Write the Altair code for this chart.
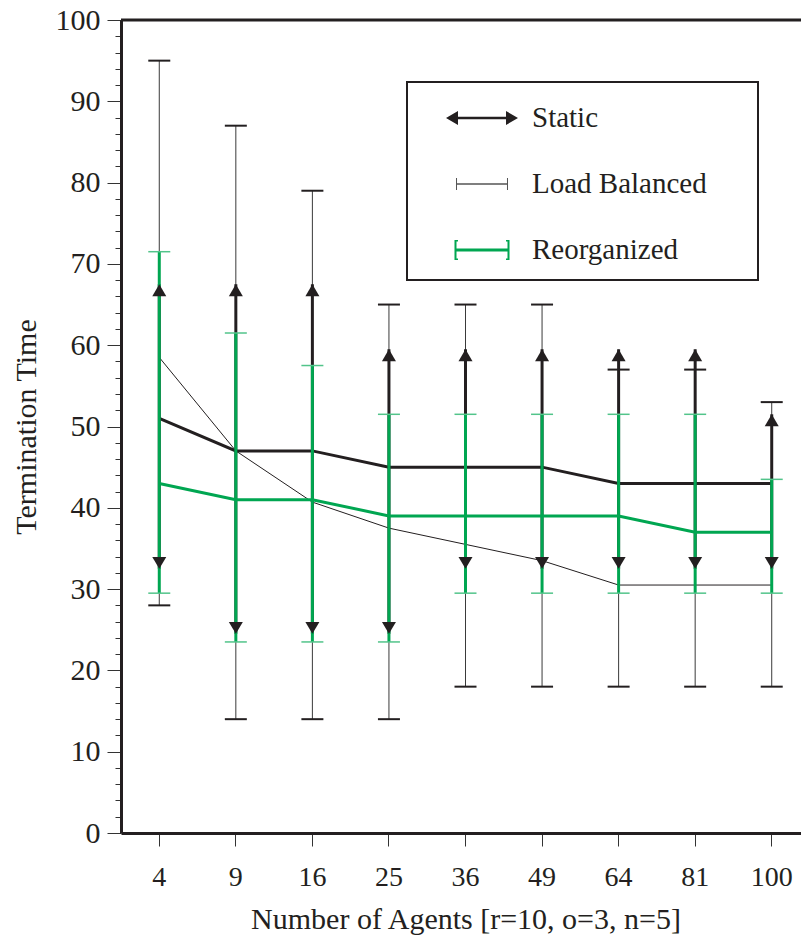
import math

import altair as alt
import pandas as pd

# Number of agents on the x axis (categorical bands)
agents = ["4", "9", "16", "25", "36", "49", "64", "81", "100"]

# Static allocation: mean termination time and spread
static_mean = [51, 47, 47, 45, 45, 45, 43, 43, 43]
static_low = [32.5, 24.5, 24.5, 24.5, 32.5, 32.5, 32.5, 32.5, 32.5]
static_high = [67.5, 67.5, 67.5, 59.5, 59.5, 59.5, 59.5, 59.5, 51.5]

# Load balanced
lb_mean = [58.5, 47, 40.7, 37.5, 35.5, 33.5, 30.5, 30.5, 30.5]
lb_low = [28, 14, 14, 14, 18, 18, 18, 18, 18]
lb_high = [95, 87, 79, 65, 65, 65, 57, 57, 53]

# Reorganized
re_mean = [43, 41, 41, 39, 39, 39, 39, 37, 37]
re_low = [29.5, 23.5, 23.5, 23.5, 29.5, 29.5, 29.5, 29.5, 29.5]
re_high = [71.5, 61.5, 57.5, 51.5, 51.5, 51.5, 51.5, 51.5, 43.5]

series_names = ["Static", "Load Balanced", "Reorganized"]

INK = "#231f20"
GREEN = "#00a651"
GREEN_CAP = "#52c48a"
FONT = "Liberation Serif"


def frame(name, mean, low, high):
    return pd.DataFrame(
        {"agents": agents, "series": name, "mean": mean, "low": low, "high": high}
    )


data = pd.concat(
    [
        frame("Static", static_mean, static_low, static_high),
        frame("Load Balanced", lb_mean, lb_low, lb_high),
        frame("Reorganized", re_mean, re_low, re_high),
    ],
    ignore_index=True,
)

x_enc = alt.X(
    "agents:N",
    sort=agents,
    scale=alt.Scale(domain=agents, paddingInner=0, paddingOuter=0),
    axis=alt.Axis(
        title="Number of Agents [r=10, o=3, n=5]",
        labelAngle=0,
        labelFont=FONT,
        labelFontSize=28,
        labelColor=INK,
        labelPadding=17,
        tickSize=13,
        tickWidth=1,
        tickColor="#333333",
        domainWidth=3,
        domainColor=INK,
        titleFont=FONT,
        titleFontSize=30,
        titleFontWeight="normal",
        titleColor=INK,
        titlePadding=13,
        grid=False,
    ),
)

y_scale = alt.Scale(domain=[0, 100], nice=False, zero=True)
y_axis = alt.Axis(
    title="Termination Time",
    values=list(range(0, 101, 2)),
    labelExpr="datum.value % 10 === 0 ? datum.label : ''",
    labelOverlap=False,
    tickSize={"condition": {"test": "datum.value % 10 === 0", "value": 14}, "value": 6},
    tickWidth=1,
    tickColor="#333333",
    labelFont=FONT,
    labelFontSize=30,
    labelColor=INK,
    labelPadding=7,
    domainWidth=3,
    domainColor=INK,
    titleFont=FONT,
    titleFontSize=30,
    titleFontWeight="normal",
    titleColor=INK,
    titlePadding=14,
    grid=False,
)


def y_of(field):
    return alt.Y(f"{field}:Q", scale=y_scale, axis=y_axis, title="Termination Time")


base = alt.Chart(data)


def part(name):
    return base.transform_filter(alt.datum.series == name)


# Error bars
lb_bars = part("Load Balanced").mark_rule(color="#3a3a3a", strokeWidth=1).encode(
    x=x_enc, y=y_of("low"), y2="high:Q"
)
static_bars = part("Static").mark_rule(color=INK, strokeWidth=3).encode(
    x=x_enc, y=y_of("low"), y2="high:Q"
)
re_bars = part("Reorganized").mark_rule(color=GREEN, strokeWidth=3).encode(
    x=x_enc, y=y_of("low"), y2="high:Q"
)

# Mean lines
lb_line = part("Load Balanced").mark_line(color=INK, strokeWidth=1).encode(x=x_enc, y=y_of("mean"))
static_line = part("Static").mark_line(color=INK, strokeWidth=3).encode(x=x_enc, y=y_of("mean"))
re_line = part("Reorganized").mark_line(color=GREEN, strokeWidth=3).encode(x=x_enc, y=y_of("mean"))

# Caps
lb_caps_lo = part("Load Balanced").mark_tick(color=INK, size=22, thickness=2, opacity=1).encode(
    x=x_enc, y=y_of("low")
)
lb_caps_hi = part("Load Balanced").mark_tick(color=INK, size=22, thickness=2, opacity=1).encode(
    x=x_enc, y=y_of("high")
)
re_caps_lo = part("Reorganized").mark_tick(color=GREEN_CAP, size=22, thickness=1.5, opacity=1).encode(
    x=x_enc, y=y_of("low")
)
re_caps_hi = part("Reorganized").mark_tick(color=GREEN_CAP, size=22, thickness=1.5, opacity=1).encode(
    x=x_enc, y=y_of("high")
)

# Arrowheads on the static spread, tip placed on the value
ARROW_UP = "M0,0L-1,1.7L1,1.7Z"
ARROW_DOWN = "M0,0L-1,-1.7L1,-1.7Z"
static_up = part("Static").mark_point(
    shape=ARROW_UP, filled=True, color=INK, size=196, opacity=1, strokeWidth=0
).encode(x=x_enc, y=y_of("high"))
static_down = part("Static").mark_point(
    shape=ARROW_DOWN, filled=True, color=INK, size=196, opacity=1, strokeWidth=0
).encode(x=x_enc, y=y_of("low"))

# Frame line along the top of the plot
top_rule = alt.Chart(pd.DataFrame({"top": [100]})).mark_rule(color=INK, strokeWidth=3).encode(
    y=y_of("top")
)

# Legend glyphs: outlines written in pixels, converted to symbol units
SYMBOL_SIZE = 1764
UNIT = math.sqrt(SYMBOL_SIZE) / 2


def glyph(points, extra=""):
    body = "L".join(f"{x / UNIT:.3f},{y / UNIT:.3f}" for x, y in points)
    return "M" + body + "Z" + extra


SYM_STATIC = glyph(
    [(-36, 0), (-24, -7), (-24, -1.3), (24, -1.3), (24, -7), (36, 0),
     (24, 7), (24, 1.3), (-24, 1.3), (-24, 7)],
    # a bare move-to far right widens the legend box
    f" M{260 / UNIT:.3f},0",
)
SYM_LB = glyph(
    [(-26, -6), (-25, -6), (-25, -0.7), (25, -0.7), (25, -6), (26, -6),
     (26, 6), (25, 6), (25, 0.7), (-25, 0.7), (-25, 6), (-26, 6)]
)
SYM_RE = glyph(
    [(-27.5, -10), (-24, -10), (-24, -8.5), (-25.5, -8.5), (-25.5, -1.5),
     (25.5, -1.5), (25.5, -8.5), (24, -8.5), (24, -10), (27.5, -10),
     (27.5, 10), (24, 10), (24, 8.5), (25.5, 8.5), (25.5, 1.5),
     (-25.5, 1.5), (-25.5, 8.5), (-24, 8.5), (-24, 10), (-27.5, 10)]
)

legend = alt.Legend(
    title=None,
    orient="none",
    legendX=286,
    legendY=62,
    padding=15,
    fillColor="white",
    strokeColor=INK,
    symbolSize=SYMBOL_SIZE,
    symbolOffset=39,
    symbolStrokeWidth=0,
    symbolOpacity=1,
    labelOffset=29,
    labelLimit=400,
    rowPadding=30,
    labelFont=FONT,
    labelFontSize=29,
    labelColor=INK,
)

legend_layer = base.transform_filter("false").mark_point(filled=True, opacity=1).encode(
    x=x_enc,
    y=y_of("mean"),
    shape=alt.Shape(
        "series:N",
        scale=alt.Scale(domain=series_names, range=[SYM_STATIC, SYM_LB, SYM_RE]),
        legend=legend,
    ),
    color=alt.Color(
        "series:N",
        scale=alt.Scale(domain=series_names, range=[INK, "#555555", GREEN]),
        legend=legend,
    ),
)

chart = (
    alt.layer(
        lb_bars,
        static_bars,
        lb_line,
        static_line,
        re_bars,
        re_line,
        re_caps_lo,
        re_caps_hi,
        lb_caps_lo,
        lb_caps_hi,
        static_up,
        static_down,
        top_rule,
        legend_layer,
    )
    .properties(
        width=689,
        height=813,
        autosize=alt.AutoSizeParams(type="none"),
        # the right edge of the plot runs past the page edge
        padding={"left": 121, "top": 20, "right": -9, "bottom": 109},
        background="white",
    )
    .configure_view(stroke=None)
    .configure_legend(strokeWidth=2)
)

chart.save("out.html", embed_options={"renderer": "svg", "actions": False})
